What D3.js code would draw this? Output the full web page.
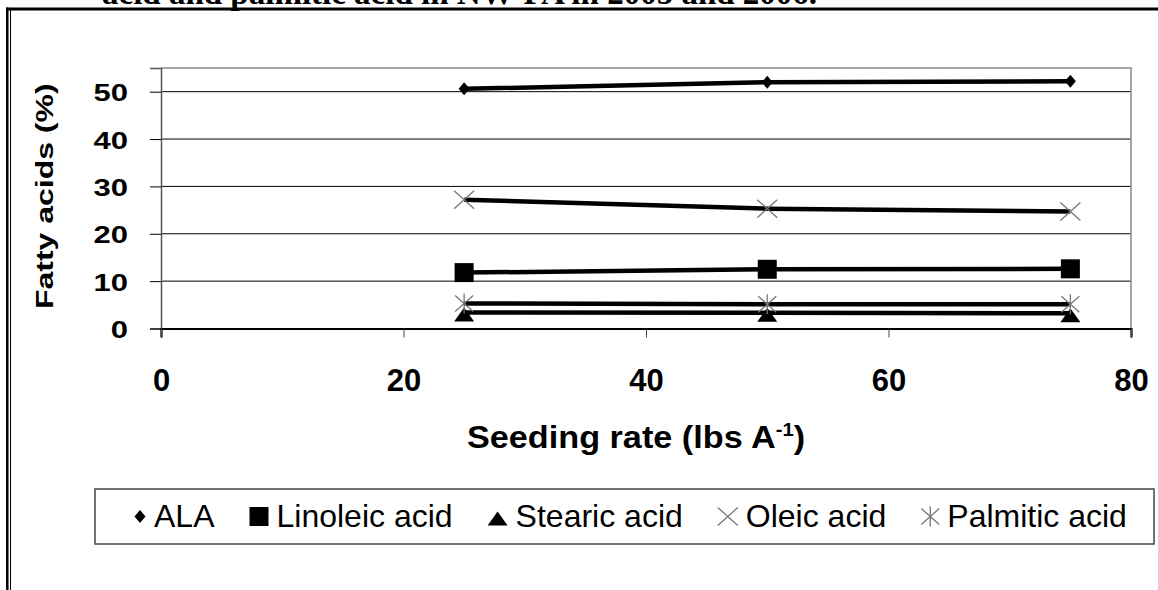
<!DOCTYPE html>
<html>
<head>
<meta charset="utf-8">
<script src="https://cdn.jsdelivr.net/npm/d3@7"></script>
<style>
  body { margin: 0; background: #fff; }
  svg { display: block; }
</style>
</head>
<body>
<div id="chart"></div>
<script>
// data
var seedingRates = [25, 50, 75];
var seriesNames = ["ALA", "Linoleic acid", "Stearic acid", "Oleic acid", "Palmitic acid"];
var ala = [50.6, 52.0, 52.2];
var linoleic = [11.8, 12.5, 12.6];
var stearic = [3.4, 3.3, 3.2];
var oleic = [27.2, 25.3, 24.7];
var palmitic = [5.3, 5.1, 5.1];
var xTicks = [0, 20, 40, 60, 80];
var yTicks = [0, 10, 20, 30, 40, 50];

var W = 1158, H = 590;
var margin = {top: 68, right: 27, bottom: 261.5, left: 161};
var width = W - margin.left - margin.right;
var height = H - margin.top - margin.bottom;

// marker shapes (Excel style)
var shapes = {
  diamond: function(s) { return "M0," + (-6.5*s) + "L" + (5.5*s) + ",0L0," + (6.5*s) + "L" + (-5.5*s) + ",0Z"; },
  square: function(s) { var h = 9.5*s; return "M" + (-h) + "," + (-h) + "h" + 2*h + "v" + 2*h + "h" + (-2*h) + "Z"; },
  triangle: function(s) { return "M0," + (-5*s) + "L" + (10*s) + "," + (9*s) + "L" + (-10*s) + "," + (9*s) + "Z"; },
  cross: function(s) { return "M" + (-10*s) + "," + (-9*s) + "L" + (10*s) + "," + (9*s) + "M" + (-10*s) + "," + (9*s) + "L" + (10*s) + "," + (-9*s); },
  star: function(s) { return "M" + (-9*s) + "," + (-8*s) + "L" + (9*s) + "," + (8*s) + "M" + (-9*s) + "," + (8*s) + "L" + (9*s) + "," + (-8*s) + "M0," + (-10*s) + "L0," + (10*s); }
};

var series = [
  {name: seriesNames[0], values: ala, shape: "diamond", filled: true, legendW: 12},
  {name: seriesNames[1], values: linoleic, shape: "square", filled: true, legendW: 19},
  {name: seriesNames[2], values: stearic, shape: "triangle", filled: true, legendW: 20},
  {name: seriesNames[3], values: oleic, shape: "cross", filled: false, legendW: 20},
  {name: seriesNames[4], values: palmitic, shape: "star", filled: false, legendW: 18}
];

var svg = d3.select("#chart")
  .append("svg")
  .attr("width", W)
  .attr("height", H);

// caption above the frame (cut off in the source too)
svg.append("text")
  .attr("x", 102)
  .attr("y", 4)
  .style("font-family", "'Liberation Serif', 'Times New Roman', serif")
  .style("font-weight", "bold")
  .style("font-size", "33px")
  .text("acid and palmitic acid in NW-PA in 2005 and 2006.");

// frame round the chart
svg.append("line").attr("x1", 6).attr("x2", W).attr("y1", 9).attr("y2", 9)
  .attr("stroke", "#000").attr("stroke-width", 3);
svg.append("line").attr("x1", 7.3).attr("x2", 7.3).attr("y1", 7.5).attr("y2", H)
  .attr("stroke", "#000").attr("stroke-width", 2.5);
svg.append("line").attr("x1", 10.5).attr("x2", 10.5).attr("y1", 10).attr("y2", H)
  .attr("stroke", "#000").attr("stroke-width", 1);

var g = svg.append("g")
  .attr("transform", "translate(" + margin.left + "," + margin.top + ")");

var x = d3.scaleLinear().domain([0, 80]).range([0, width]);
var y = d3.scaleLinear().domain([0, 55]).range([height, 0]);

// gridlines
g.selectAll(".grid")
  .data(yTicks.filter(function(d) { return d > 0; }))
  .enter().append("line")
  .attr("class", "grid")
  .attr("x1", 0).attr("x2", width)
  .attr("y1", function(d) { return y(d); })
  .attr("y2", function(d) { return y(d); })
  .attr("stroke", "#000")
  .attr("stroke-width", 1);

// plot border (top/right grey)
g.append("path")
  .attr("d", "M0,0H" + width + "V" + height)
  .attr("fill", "none")
  .attr("stroke", "#8a8a8a")
  .attr("stroke-width", 1.5);

// y axis
var yAxis = g.append("g")
  .call(d3.axisLeft(y).tickValues(yTicks).tickSize(11).tickPadding(0));
yAxis.select(".domain").attr("stroke", "#555").attr("stroke-width", 1.5);
yAxis.selectAll(".tick line").attr("stroke", "#000");
yAxis.selectAll(".tick text")
  .attr("x", 0).attr("dy", null)
  .attr("transform", "translate(-33,9) scale(1,0.8)")
  .style("font-family", "'Liberation Sans', Arial, sans-serif")
  .style("font-weight", "bold")
  .style("font-size", "31px")
  .attr("fill", "#000");

// x axis
var xAxis = g.append("g")
  .attr("transform", "translate(0," + height + ")")
  .call(d3.axisBottom(x).tickValues(xTicks).tickSize(9).tickPadding(0));
xAxis.select(".domain").attr("stroke", "#000").attr("stroke-width", 2.2);
xAxis.selectAll(".tick line").attr("stroke", "#444");
xAxis.selectAll(".tick text")
  .attr("y", 62.5).attr("dy", null)
  .style("font-family", "'Liberation Sans', Arial, sans-serif")
  .style("font-weight", "bold")
  .style("font-size", "31px")
  .attr("fill", "#000");

// axis titles
svg.append("text")
  .attr("transform", "translate(53," + (margin.top + height / 2 - 2) + ") rotate(-90) scale(1,0.75)")
  .attr("text-anchor", "middle")
  .style("font-family", "'Liberation Sans', Arial, sans-serif")
  .style("font-weight", "bold")
  .style("font-size", "32px")
  .text("Fatty acids (%)");

var xTitle = svg.append("text")
  .attr("transform", "translate(" + (margin.left + width / 2 - 10) + ",448) scale(1.07,1)")
  .attr("text-anchor", "middle")
  .style("font-family", "'Liberation Sans', Arial, sans-serif")
  .style("font-weight", "bold")
  .style("font-size", "32px");
xTitle.append("tspan").text("Seeding rate (lbs A");
xTitle.append("tspan").attr("dy", -12).style("font-size", "19px").text("-1");
xTitle.append("tspan").attr("dy", 12).text(")");

// series
var line = d3.line()
  .x(function(d, i) { return x(seedingRates[i]); })
  .y(function(d) { return y(d); });

series.forEach(function(s) {
  var sg = g.append("g").attr("class", "series");
  sg.append("path")
    .datum(s.values)
    .attr("d", line)
    .attr("fill", "none")
    .attr("stroke", "#000")
    .attr("stroke-width", 4.5);
  sg.selectAll(".pt")
    .data(s.values)
    .enter().append("path")
    .attr("class", "pt")
    .attr("transform", function(d, i) { return "translate(" + x(seedingRates[i]) + "," + y(d) + ")"; })
    .attr("d", shapes[s.shape](1))
    .attr("fill", s.filled ? "#000" : "none")
    .attr("stroke", s.filled ? "none" : "#777")
    .attr("stroke-width", 1.3);
});

// legend
var legend = svg.append("g");
legend.append("rect")
  .attr("x", 95).attr("y", 489)
  .attr("width", 1154 - 95).attr("height", 544 - 489)
  .attr("fill", "#fff")
  .attr("stroke", "#444")
  .attr("stroke-width", 1.5);

var cursor = 134;
series.forEach(function(s) {
  var mx = cursor + s.legendW / 2;
  legend.append("path")
    .attr("transform", "translate(" + mx + ",516.5)")
    .attr("d", shapes[s.shape](1))
    .attr("fill", s.filled ? "#000" : "none")
    .attr("stroke", s.filled ? "none" : "#777")
    .attr("stroke-width", 1.3);
  var t = legend.append("text")
    .attr("x", cursor + s.legendW + 8)
    .attr("y", 527)
    .style("font-family", "'Liberation Sans', Arial, sans-serif")
    .style("font-size", "32px")
    .text(s.name);
  cursor = cursor + s.legendW + 8 + t.node().getComputedTextLength() + 35;
});
</script>
</body>
</html>
